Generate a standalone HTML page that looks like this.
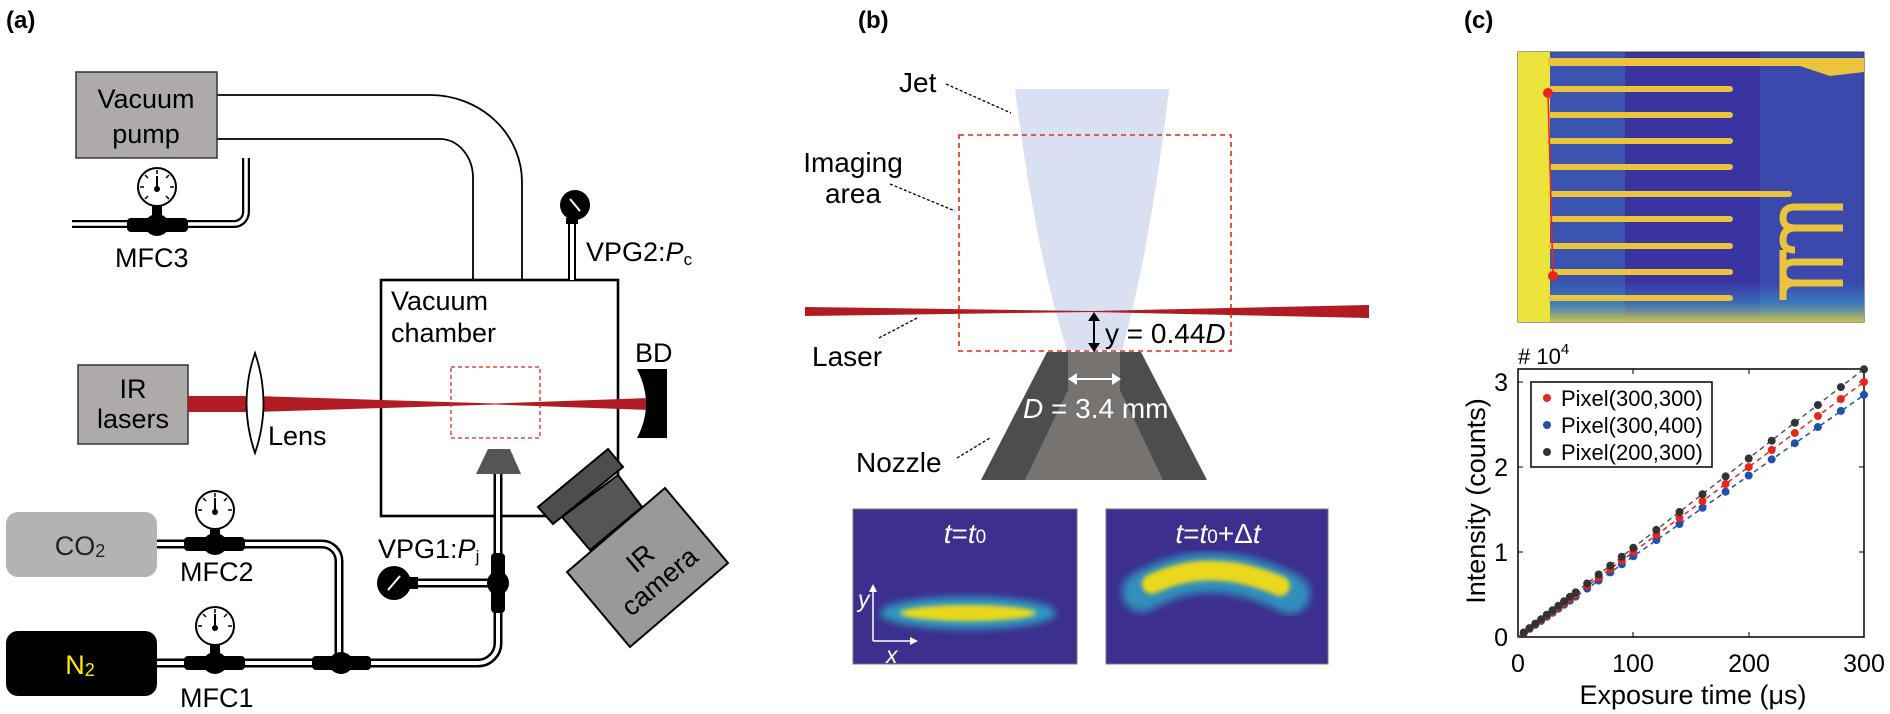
<!DOCTYPE html>
<html><head><meta charset="utf-8">
<style>
html,body{margin:0;padding:0;background:#fff;}
svg{display:block;}
text{font-family:"Liberation Sans",Arial,sans-serif;}
</style></head>
<body>
<svg width="1890" height="714" viewBox="0 0 1890 714" xmlns="http://www.w3.org/2000/svg">
<defs>
  <filter id="blur2" x="-50%" y="-100%" width="200%" height="300%"><feGaussianBlur stdDeviation="4"/></filter>
  <filter id="blur1" x="-50%" y="-100%" width="200%" height="300%"><feGaussianBlur stdDeviation="2"/></filter>
  <linearGradient id="imgbot" x1="0" y1="0" x2="0" y2="1"><stop offset="0" stop-color="#3aa0d0" stop-opacity="0"/><stop offset="0.5" stop-color="#3aa0d0" stop-opacity="0.5"/><stop offset="1" stop-color="#e0d040" stop-opacity="0.9"/></linearGradient>
</defs>

<text x="6" y="28" font-size="24" font-weight="bold">(a)</text>
<text x="858" y="28" font-size="24" font-weight="bold">(b)</text>
<text x="1464" y="28" font-size="24" font-weight="bold">(c)</text>

<!-- ============ PANEL A ============ -->
<path d="M217,95 H430 A92,87 0 0 1 522,182 V280" fill="none" stroke="#000" stroke-width="1.8"/>
<path d="M217,139 H440 A33,39 0 0 1 473,178 V280" fill="none" stroke="#000" stroke-width="1.8"/>
<rect x="76" y="72" width="141" height="86" fill="#aeaaa9" stroke="#333" stroke-width="1.5"/>
<text x="146" y="108" font-size="27" text-anchor="middle">Vacuum</text>
<text x="146" y="143" font-size="27" text-anchor="middle">pump</text>

<path d="M246,158 V212 A12,12 0 0 1 234,224 H72" fill="none" stroke="#000" stroke-width="8"/>
<path d="M246,158 V212 A12,12 0 0 1 234,224 H72" fill="none" stroke="#fff" stroke-width="3.5"/>
<rect x="152" y="202" width="10" height="18" fill="#000"/>
<circle cx="157" cy="187" r="19" fill="#fff" stroke="#000" stroke-width="2"/>
<g stroke="#000" stroke-width="1.5"><line x1="157" y1="170" x2="157" y2="174"/><line x1="140" y1="187" x2="144" y2="187"/><line x1="170" y1="187" x2="174" y2="187"/><line x1="145" y1="175" x2="148" y2="178"/><line x1="169" y1="175" x2="166" y2="178"/><line x1="145" y1="199" x2="148" y2="196"/><line x1="169" y1="199" x2="166" y2="196"/></g>
<line x1="157" y1="176" x2="157" y2="189" stroke="#000" stroke-width="2"/><circle cx="157" cy="189" r="3" fill="#000"/>
<rect x="127" y="218" width="61" height="14" rx="4" fill="#000"/>
<ellipse cx="157" cy="225" rx="12" ry="11" fill="#000"/>
<text x="115" y="267" font-size="27">MFC3</text>

<rect x="381" y="280" width="237" height="236" fill="none" stroke="#000" stroke-width="2.6"/>
<text x="391" y="310" font-size="27">Vacuum</text>
<text x="391" y="342" font-size="27">chamber</text>

<rect x="568" y="222" width="8" height="58" fill="#000"/><rect x="570" y="224" width="4" height="56" fill="#fff"/>
<rect x="566" y="218" width="12" height="6" fill="#000"/>
<circle cx="575" cy="205" r="15" fill="#000"/>
<line x1="570" y1="199" x2="580" y2="211" stroke="#fff" stroke-width="2"/>
<text x="586" y="261" font-size="27">VPG2:<tspan font-style="italic">P</tspan><tspan font-size="17" dy="4">c</tspan></text>

<rect x="78" y="365" width="110" height="79" fill="#aeaaa9" stroke="#333" stroke-width="1.5"/>
<text x="133" y="398" font-size="27" text-anchor="middle">IR</text>
<text x="133" y="428" font-size="27" text-anchor="middle">lasers</text>
<polygon points="188,396 255,396 495,403.5 495,404.5 255,412 188,412" fill="#b01c22"/>
<polygon points="495,403.5 650,398 650,410 495,404.5" fill="#b01c22"/>
<path d="M255,353 Q272,403 255,453 Q238,403 255,353 Z" fill="#fff" stroke="#000" stroke-width="1.8"/>
<text x="268" y="445" font-size="27">Lens</text>
<rect x="451" y="367" width="89" height="71" fill="none" stroke="#e8261c" stroke-width="1.3" stroke-dasharray="4,3"/>
<path d="M637,369 H667 V438 H637 Q655,404 637,369 Z" fill="#000"/>
<text x="635" y="362" font-size="27">BD</text>

<polygon points="488,449 510,449 521,474 476,474" fill="#555"/>
<g fill="none" stroke="#000" stroke-width="9">
  <path d="M157,544 H322 A17,17 0 0 1 339,561 V663"/>
  <path d="M157,663 H478 A20,20 0 0 0 498,643 V474"/>
  <path d="M400,583 H498"/>
</g>
<g fill="none" stroke="#fff" stroke-width="4">
  <path d="M157,544 H322 A17,17 0 0 1 339,561 V663"/>
  <path d="M157,663 H478 A20,20 0 0 0 498,643 V474"/>
  <path d="M400,583 H498"/>
</g>
<rect x="6" y="512" width="151" height="65" rx="12" fill="#b3b3b3"/>
<text x="80" y="555" font-size="27" text-anchor="middle" fill="#222">CO<tspan font-size="18" dy="2">2</tspan></text>
<rect x="6" y="631" width="151" height="65" rx="12" fill="#000"/>
<text x="80" y="674" font-size="27" text-anchor="middle" fill="#ffee00">N<tspan font-size="18" dy="2">2</tspan></text>

<rect x="210" y="526" width="10" height="12" fill="#000"/>
<circle cx="215" cy="510" r="19" fill="#fff" stroke="#000" stroke-width="2"/>
<line x1="215" y1="498" x2="215" y2="512" stroke="#000" stroke-width="2"/><circle cx="215" cy="512" r="3" fill="#000"/>
<g stroke="#000" stroke-width="1.5"><line x1="215" y1="493" x2="215" y2="497"/><line x1="198" y1="510" x2="202" y2="510"/><line x1="228" y1="510" x2="232" y2="510"/><line x1="203" y1="498" x2="206" y2="501"/><line x1="227" y1="498" x2="224" y2="501"/></g>
<rect x="184" y="537" width="61" height="14" rx="4" fill="#000"/><ellipse cx="215" cy="544" rx="12" ry="11" fill="#000"/>
<text x="180" y="581" font-size="27">MFC2</text>
<rect x="210" y="644" width="10" height="12" fill="#000"/>
<circle cx="215" cy="626" r="19" fill="#fff" stroke="#000" stroke-width="2"/>
<line x1="215" y1="614" x2="215" y2="628" stroke="#000" stroke-width="2"/><circle cx="215" cy="628" r="3" fill="#000"/>
<g stroke="#000" stroke-width="1.5"><line x1="215" y1="609" x2="215" y2="613"/><line x1="198" y1="626" x2="202" y2="626"/><line x1="228" y1="626" x2="232" y2="626"/><line x1="203" y1="614" x2="206" y2="617"/><line x1="227" y1="614" x2="224" y2="617"/></g>
<rect x="184" y="656" width="61" height="14" rx="4" fill="#000"/><ellipse cx="215" cy="663" rx="12" ry="11" fill="#000"/>
<text x="180" y="707" font-size="27">MFC1</text>
<rect x="312" y="656" width="59" height="14" rx="4" fill="#000"/><ellipse cx="341" cy="663" rx="12" ry="11" fill="#000"/>
<rect x="491" y="553" width="14" height="60" rx="4" fill="#000"/>
<ellipse cx="498" cy="583" rx="11" ry="12" fill="#000"/>
<rect x="410" y="577" width="8" height="12" fill="#000"/>
<circle cx="394" cy="583" r="17" fill="#000"/>
<line x1="388" y1="590" x2="400" y2="576" stroke="#fff" stroke-width="2"/>
<text x="378" y="558" font-size="27">VPG1:<tspan font-style="italic">P</tspan><tspan font-size="17" dy="4">j</tspan></text>

<polygon points="562,517 618,475 642,507 590,550" fill="#555" stroke="#000" stroke-width="2"/>
<polygon points="538,507 608,449 623,467 553,524" fill="#4d4d4d" stroke="#000" stroke-width="2"/>
<polygon points="567,572 665,488 728,563 630,647" fill="#999" stroke="#000" stroke-width="2"/>
<g transform="translate(650,570) rotate(-40)">
<text x="0" y="-6" font-size="27" text-anchor="middle">IR</text>
<text x="0" y="24" font-size="27" text-anchor="middle">camera</text>
</g>

<!-- ============ PANEL B ============ -->
<path d="M1015,89 L1169,89 Q1150,250 1122,350 L1067,350 Q1035,250 1015,89 Z" fill="#d8e0f1"/>
<polygon points="805,307 1092,311 1092,312 805,316" fill="#b01c22"/>
<polygon points="1092,311 1369,305 1369,318 1092,312" fill="#b01c22"/>
<rect x="959" y="135" width="272" height="216" fill="none" stroke="#e8261c" stroke-width="1.6" stroke-dasharray="5,4"/>
<polygon points="1047,352 1141,352 1207,480 981,480" fill="#4d4d4d"/>
<polygon points="1068,352 1120,352 1120,390 1163,480 1025,480 1068,390" fill="#777370"/>
<line x1="1094" y1="318" x2="1094" y2="346" stroke="#000" stroke-width="2"/>
<polygon points="1088,321 1100,321 1094,312" fill="#000"/>
<polygon points="1088,343 1100,343 1094,352" fill="#000"/>
<text x="1105" y="343" font-size="28">y = 0.44<tspan font-style="italic">D</tspan></text>
<line x1="1074" y1="379" x2="1115" y2="379" stroke="#fff" stroke-width="2"/>
<polygon points="1077,373 1077,385 1068,379" fill="#fff"/>
<polygon points="1112,373 1112,385 1121,379" fill="#fff"/>
<text x="1023" y="418" font-size="28" fill="#fff"><tspan font-style="italic">D</tspan> = 3.4 mm</text>
<text x="899" y="92" font-size="28">Jet</text>
<line x1="946" y1="84" x2="1011" y2="113" stroke="#000" stroke-width="1.3" stroke-dasharray="3,2"/>
<text x="853" y="172" font-size="28" text-anchor="middle">Imaging</text>
<text x="853" y="203" font-size="28" text-anchor="middle">area</text>
<line x1="890" y1="184" x2="955" y2="211" stroke="#000" stroke-width="1.3" stroke-dasharray="3,2"/>
<text x="812" y="366" font-size="28">Laser</text>
<line x1="879" y1="338" x2="919" y2="317" stroke="#000" stroke-width="1.3" stroke-dasharray="3,2"/>
<text x="856" y="472" font-size="28">Nozzle</text>
<line x1="957" y1="458" x2="990" y2="438" stroke="#000" stroke-width="1.3" stroke-dasharray="3,2"/>

<rect x="853" y="509" width="224" height="155" fill="#3c2f8e" stroke="#777" stroke-width="1"/>
<ellipse cx="968" cy="613" rx="88" ry="16" fill="#2fa8c8" filter="url(#blur2)" opacity="0.9"/>
<ellipse cx="968" cy="613" rx="68" ry="8" fill="#e9d81e" filter="url(#blur1)"/>
<text x="965" y="543" font-size="28" fill="#fff" text-anchor="middle" font-style="italic">t<tspan font-style="normal">=</tspan>t<tspan font-style="normal" font-size="19">0</tspan></text>
<line x1="873" y1="641" x2="873" y2="590" stroke="#fff" stroke-width="1.5"/>
<polygon points="869,592 877,592 873,584" fill="#fff"/>
<line x1="873" y1="641" x2="912" y2="641" stroke="#fff" stroke-width="1.5"/>
<polygon points="910,637 910,645 918,641" fill="#fff"/>
<text x="858" y="607" font-size="23" fill="#fff" font-style="italic">y</text>
<text x="886" y="663" font-size="23" fill="#fff" font-style="italic">x</text>

<rect x="1106" y="509" width="222" height="155" fill="#3c2f8e" stroke="#777" stroke-width="1"/>
<path d="M1142,592 Q1210,552 1290,594" fill="none" stroke="#2fa8c8" stroke-width="40" stroke-linecap="round" filter="url(#blur2)" opacity="0.8"/>
<path d="M1152,584 Q1210,556 1280,586" fill="none" stroke="#e9d81e" stroke-width="20" stroke-linecap="round" filter="url(#blur1)"/>
<text x="1218" y="543" font-size="28" fill="#fff" text-anchor="middle" font-style="italic">t<tspan font-style="normal">=</tspan>t<tspan font-style="normal" font-size="19">0</tspan><tspan font-style="normal">+Δ</tspan>t</text>

<!-- ============ PANEL C ============ -->
<rect x="1518" y="52" width="346" height="270" fill="#3a34a0" stroke="#333" stroke-width="1"/>
<rect x="1545" y="52" width="80" height="270" fill="#3aa0d8" opacity="0.3"/>
<rect x="1760" y="52" width="104" height="270" fill="#3aa0d8" opacity="0.2"/>
<rect x="1518" y="282" width="346" height="40" fill="url(#imgbot)"/>
<rect x="1518" y="52" width="32" height="270" fill="#ece43a"/>
<g fill="#ecc43c">
<path d="M1548,58 H1864 V72 L1830,76 L1800,66 H1548 Z"/>
<rect x="1548" y="86" width="185" height="6" rx="3"/>
<rect x="1548" y="112" width="185" height="6" rx="3"/>
<rect x="1548" y="138" width="185" height="6" rx="3"/>
<rect x="1548" y="164" width="185" height="6" rx="3"/>
<rect x="1548" y="191" width="244" height="6" rx="3"/>
<rect x="1548" y="216" width="185" height="6" rx="3"/>
<rect x="1548" y="243" width="185" height="6" rx="3"/>
<rect x="1548" y="269" width="185" height="6" rx="3"/>
<rect x="1548" y="295" width="185" height="6" rx="3"/>
</g>
<path d="M1843,207 H1795 Q1783,207 1783,218 Q1783,228 1795,228 H1843 M1843,228 H1795 Q1783,228 1783,240 Q1783,250 1795,250 M1783,250 V300 M1795,262 H1843 M1795,262 Q1783,262 1783,272 Q1783,283 1795,283 H1843 M1795,283 Q1783,283 1783,294" fill="none" stroke="#ecc43c" stroke-width="7"/>
<line x1="1548" y1="93" x2="1553" y2="276" stroke="#e8261c" stroke-width="1.5"/>
<circle cx="1548" cy="93" r="5" fill="#e8261c"/><circle cx="1553" cy="276" r="5" fill="#e8261c"/>

<rect x="1518" y="369" width="346" height="268" fill="none" stroke="#000" stroke-width="1.5"/>
<g stroke="#000" stroke-width="1">
<line x1="1633" y1="637" x2="1633" y2="632"/><line x1="1749" y1="637" x2="1749" y2="632"/>
<line x1="1633" y1="369" x2="1633" y2="374"/><line x1="1749" y1="369" x2="1749" y2="374"/>
<line x1="1518" y1="552" x2="1523" y2="552"/><line x1="1518" y1="467" x2="1523" y2="467"/><line x1="1518" y1="382" x2="1523" y2="382"/>
<line x1="1864" y1="552" x2="1859" y2="552"/><line x1="1864" y1="467" x2="1859" y2="467"/><line x1="1864" y1="382" x2="1859" y2="382"/>
</g>
<g font-size="25" text-anchor="end">
<text x="1508" y="646">0</text><text x="1508" y="561">1</text><text x="1508" y="476">2</text><text x="1508" y="391">3</text>
</g>
<g font-size="25" text-anchor="middle">
<text x="1518" y="672">0</text><text x="1633" y="672">100</text><text x="1749" y="672">200</text><text x="1864" y="672">300</text>
</g>
<text x="1693" y="704" font-size="27" text-anchor="middle">Exposure time (μs)</text>
<text transform="translate(1485,501) rotate(-90)" font-size="27" text-anchor="middle">Intensity (counts)</text>
<text x="1518" y="364" font-size="22"># 10<tspan font-size="15" dy="-10">4</tspan></text>

<line x1="1518" y1="637" x2="1864" y2="369" stroke="#555" stroke-width="1.5" stroke-dasharray="5,4"/>
<line x1="1518" y1="637" x2="1864" y2="382" stroke="#e8261c" stroke-width="1.5" stroke-dasharray="5,4"/>
<line x1="1518" y1="637" x2="1864" y2="395" stroke="#1f4faf" stroke-width="1.5" stroke-dasharray="5,4"/>
<path stroke="#1f4faf" stroke-width="8" stroke-linecap="round" fill="none" d="M1523.8,633h0M1529.5,628.9h0M1535.3,624.9h0M1541.1,620.9h0M1546.8,616.8h0M1552.6,612.8h0M1558.4,608.7h0M1564.1,604.7h0M1569.9,600.7h0M1575.7,596.6h0M1587.2,588.6h0M1598.7,580.5h0M1610.3,572.4h0M1621.8,564.3h0M1633.3,556.3h0M1656.4,540.1h0M1679.5,524h0M1702.5,507.8h0M1725.6,491.7h0M1748.7,475.5h0M1771.7,459.4h0M1794.8,443.2h0M1817.9,427h0M1840.9,410.9h0M1864,394.8h0"/>
<path stroke="#e8261c" stroke-width="8" stroke-linecap="round" fill="none" d="M1523.8,632.8h0M1529.5,628.5h0M1535.3,624.3h0M1541.1,620h0M1546.8,615.8h0M1552.6,611.5h0M1558.4,607.3h0M1564.1,603h0M1569.9,598.8h0M1575.7,594.5h0M1587.2,586h0M1598.7,577.5h0M1610.3,569h0M1621.8,560.5h0M1633.3,552h0M1656.4,535h0M1679.5,518h0M1702.5,501h0M1725.6,484h0M1748.7,467h0M1771.7,450h0M1794.8,433h0M1817.9,416h0M1840.9,399h0M1864,382h0"/>
<path stroke="#333" stroke-width="8" stroke-linecap="round" fill="none" d="M1523.8,632.5h0M1529.5,628.1h0M1535.3,623.6h0M1541.1,619.2h0M1546.8,614.7h0M1552.6,610.2h0M1558.4,605.8h0M1564.1,601.3h0M1569.9,596.8h0M1575.7,592.4h0M1587.2,583.5h0M1598.7,574.5h0M1610.3,565.6h0M1621.8,556.7h0M1633.3,547.8h0M1656.4,529.9h0M1679.5,512h0M1702.5,494.2h0M1725.6,476.4h0M1748.7,458.5h0M1771.7,440.7h0M1794.8,422.8h0M1817.9,405h0M1840.9,387.1h0M1864,369.3h0"/>
<rect x="1531" y="382" width="181" height="85" fill="#fff" stroke="#000" stroke-width="1.5"/>
<circle cx="1547" cy="398" r="4" fill="#e8261c"/>
<circle cx="1547" cy="425" r="4" fill="#1f4faf"/>
<circle cx="1547" cy="452" r="4" fill="#333"/>
<g font-size="22">
<text x="1561" y="406">Pixel(300,300)</text>
<text x="1561" y="433">Pixel(300,400)</text>
<text x="1561" y="460">Pixel(200,300)</text>
</g>
</svg>
</body></html>
